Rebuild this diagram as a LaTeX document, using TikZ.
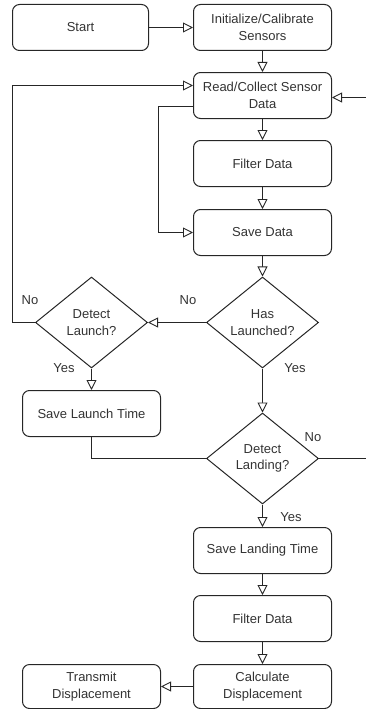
\documentclass[tikz,border=0pt]{standalone}
\usepackage{fontspec}
\setmainfont{Liberation Sans}
\usetikzlibrary{arrows.meta,shapes.geometric}
\begin{document}
\begin{tikzpicture}[x=1pt,y=-1pt,
  every node/.style={font=\fontsize{13}{16.5}\selectfont, text=black!80},
  proc/.style={draw=black!85, line width=1pt, rounded corners=7pt, minimum width=138pt, minimum height=46pt, align=center, inner sep=1pt},
  dec/.style={draw=black!85, line width=1pt, diamond, minimum width=112pt, minimum height=91pt, inner sep=0pt, align=center},
  conn/.style={draw=black!85, line width=1pt},
  arr/.style={conn, -{Triangle[open,length=10pt,width=10pt,line width=0.9pt,fill=white]}},
  lbl/.style={inner sep=0pt}]
\useasboundingbox (0,0) rectangle (365,709);
\node[proc, minimum width=136pt] (start) at (80.5,27.5) {Start};
\node[proc] (init) at (262.5,27.5) {Initialize/Calibrate\\Sensors};
\node[proc] (read) at (262.5,95.5) {Read/Collect Sensor\\Data};
\node[proc] (filt1) at (262.5,163.5) {Filter Data};
\node[proc] (save) at (262.5,232.5) {Save Data};
\node[dec] (has) at (262.5,322.5) {Has\\Launched?};
\node[dec] (detl) at (91.5,322.5) {Detect\\Launch?};
\node[proc] (savelt) at (91.5,413.5) {Save Launch Time};
\node[dec] (detland) at (262.5,458.5) {Detect\\Landing?};
\node[proc] (saveland) at (262.5,550.5) {Save Landing Time};
\node[proc] (filt2) at (262.5,618.5) {Filter Data};
\node[proc, minimum height=44pt] (calc) at (262.5,686.5) {Calculate\\Displacement};
\node[proc, minimum height=44pt] (trans) at (91.5,686.5) {Transmit\\Displacement};

\draw[arr] (start) -- (init);
\draw[arr] (init) -- (read);
\draw[arr] (read) -- (filt1);
\draw[arr] (filt1) -- (save);
\draw[arr] ([yshift=-11pt]read.west) -- ++(-34.5,0) |- (save.west);
\draw[arr] (save) -- (has);
\draw[arr] (has.west) -- (detl.east);
\draw[arr] (detl.west) -- ++(-23,0) |- ([yshift=10pt]read.west);
\draw[arr] (detl.south) -- (savelt.north);
\draw[arr] (has.south) -- (detland.north);
\draw[conn] (savelt.south) |- (detland.west);
\draw[arr] (detland.east) -- ++(48,0) |- ([yshift=-2pt]read.east);
\draw[arr] (detland.south) -- (saveland.north);
\draw[arr] (saveland) -- (filt2);
\draw[arr] (filt2) -- (calc);
\draw[arr] (calc) -- (trans);

\node[lbl] (no1) at (188,300) {No};
\node[lbl] (no2) at (30,300) {No};
\node[lbl] (yes1) at (64,368) {Yes};
\node[lbl] (yes2) at (295,368) {Yes};
\node[lbl] (no3) at (313,437) {No};
\node[lbl] (yes3) at (291,517) {Yes};
\end{tikzpicture}
\end{document}
